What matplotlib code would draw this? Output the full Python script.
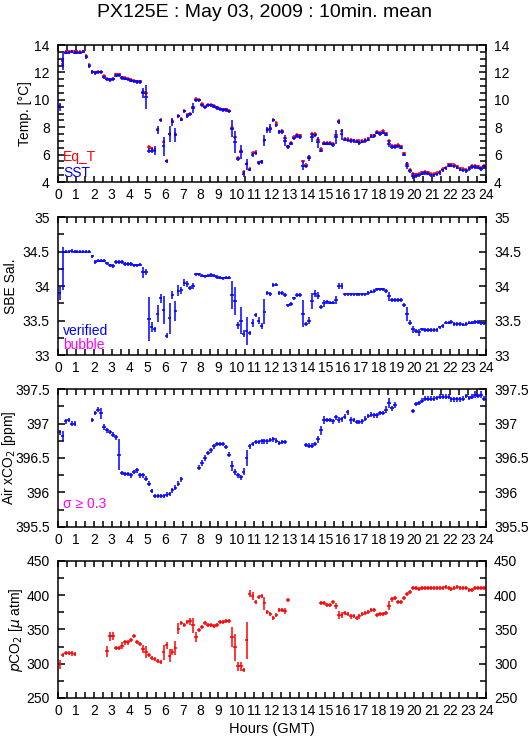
import numpy as np
import matplotlib
matplotlib.use('Agg')
import matplotlib.pyplot as plt
from matplotlib.ticker import MultipleLocator, FormatStrFormatter

plt.rcParams['font.family'] = ['Liberation Sans', 'DejaVu Sans']

nan = np.nan

# 10 minute means, one row per hour
sst = [
    9.5, 12.8, 13.45, 13.45, 13.5, 13.45,
    13.45, 13.45, 13.5, 13.1, 12.45, 12.0,
    11.95, 12.0, 12.0, 11.65, 11.5, 11.45,
    11.5, 11.75, 11.8, 11.6, 11.55, 11.5,
    11.4, 11.35, 11.3, 11.3, 10.5, 10.2,
    6.3, 6.3, 6.3, 7.8, 8.5, 6.6,
    5.5, 7.5, 8.4, 7.45, 8.8, 8.55,
    9.15, 8.85, 8.95, 9.4, 9.95, 9.95,
    9.6, 9.45, 9.6, 9.6, 9.5, 9.4,
    9.3, 9.25, 9.25, 9.15, 7.9, 6.9,
    5.7, 6.2, 4.6, 5.3, 4.9, 6.0,
    6.1, 5.4, 5.45, 7.05, 7.8, 7.9,
    8.5, 8.15, 7.65, 7.65, 7.0, 6.55,
    6.8, 7.2, 7.35, 7.3, 5.2, 5.15,
    5.75, 7.25, 7.4, 6.9, 6.3, 6.8,
    6.8, 6.8, 6.7, 7.3, 8.35, 7.5,
    7.1, 7.05, 7.0, 7.0, 6.95, 6.85,
    6.95, 7.0, 7.1, 7.3, 7.35, 7.6,
    7.5, 7.6, 7.45, 6.8, 6.55, 6.55,
    6.6, 6.5, 6.0, 5.2, 4.8, 4.45,
    4.45, 4.5, 4.6, 4.65, 4.6, 4.5,
    4.5, 4.55, 4.65, 4.85, 5.0, 5.2,
    5.2, 5.15, 5.05, 4.9, 4.85, 4.8,
    4.95, 5.1, 5.1, 5.05, 4.95, 5.15,
]
sst_sd = [
    0.3, 0.6, 0.05, 0.05, 0.05, 0.05,
    0.05, 0.05, 0.05, 0.15, 0.15, 0.15,
    0.1, 0.05, 0.05, 0.1, 0.1, 0.05,
    0.05, 0.05, 0.05, 0.05, 0.05, 0.05,
    0.05, 0.05, 0.05, 0.05, 0.35, 0.9,
    0.15, 0.2, 0.3, 0.3, 0.1, 0.7,
    0.1, 0.6, 0.3, 0.5, 0.1, 0.1,
    0.1, 0.15, 0.1, 0.35, 0.05, 0.05,
    0.1, 0.1, 0.05, 0.05, 0.05, 0.05,
    0.05, 0.05, 0.05, 0.1, 0.6, 0.8,
    0.15, 0.5, 0.2, 0.4, 0.1, 0.15,
    0.1, 0.15, 0.15, 0.4, 0.2, 0.3,
    0.05, 0.1, 0.1, 0.1, 0.4, 0.1,
    0.1, 0.1, 0.1, 0.15, 0.3, 0.1,
    0.2, 0.3, 0.1, 0.4, 0.1, 0.1,
    0.05, 0.05, 0.1, 0.5, 0.15, 0.4,
    0.05, 0.05, 0.05, 0.05, 0.05, 0.05,
    0.05, 0.05, 0.05, 0.05, 0.05, 0.05,
    0.05, 0.05, 0.1, 0.25, 0.1, 0.1,
    0.05, 0.05, 0.1, 0.25, 0.1, 0.2,
    0.15, 0.1, 0.05, 0.05, 0.05, 0.05,
    0.05, 0.05, 0.05, 0.05, 0.05, 0.05,
    0.05, 0.05, 0.05, 0.05, 0.05, 0.05,
    0.05, 0.05, 0.05, 0.05, 0.05, 0.05,
]
eq_t = [
    9.55, 12.65, 13.5, 13.5, 13.55, 13.55,
    13.5, 13.5, 13.55, 13.2, 12.55, 12.05,
    12.0, 12.05, 12.05, 11.75, 11.55, 11.5,
    11.55, 11.85, 11.85, 11.65, 11.6, 11.55,
    11.45, 11.4, 11.35, 11.35, 10.6, 10.5,
    6.55, 6.45, 6.35, 7.85, 8.55, 6.95,
    5.55, 7.5, 8.45, 7.5, 8.85, 8.6,
    9.2, 8.9, 9.0, 9.45, 10.05, 10.0,
    9.7, 9.5, 9.65, 9.65, 9.55, 9.45,
    9.35, 9.3, 9.3, 9.2, 7.95, 7.25,
    5.75, 6.3, 4.75, 5.35, 4.95, 6.15,
    6.2, 5.45, 5.5, 7.05, 7.85, 7.95,
    8.55, 8.3, 7.7, 7.75, 7.2, 6.6,
    6.85, 7.3, 7.45, 7.4, 5.5, 5.25,
    5.8, 7.5, 7.5, 7.1, 6.4, 6.85,
    6.85, 6.85, 6.8, 7.4, 8.45, 7.75,
    7.15, 7.15, 7.1, 7.05, 7.0, 7.0,
    7.0, 7.1, 7.2, 7.4, 7.4, 7.65,
    7.6, 7.75, 7.55, 7.0, 6.65, 6.65,
    6.7, 6.6, 6.1, 5.35, 4.9, 4.6,
    4.55, 4.6, 4.7, 4.75, 4.7, 4.6,
    4.6, 4.65, 4.75, 4.95, 5.05, 5.3,
    5.3, 5.25, 5.15, 5.0, 4.95, 4.9,
    5.05, 5.2, 5.2, 5.15, 5.05, 5.2,
]

sal = [
    33.9, 34.25, 34.5, 34.5, 34.51, 34.5,
    34.5, 34.5, 34.5, 34.5, 34.5, 34.43,
    34.35, 34.37, 34.37, 34.37, 34.33, 34.3,
    34.29, 34.35, 34.35, 34.35, 34.32, 34.32,
    34.32, 34.3, 34.3, 34.31, 34.2, 34.2,
    33.52, 33.41, 33.37, 33.6, 33.82, 33.65,
    33.28, 33.53, 33.87, 33.64, 33.93, 33.94,
    34.05, 34.03, 33.97, 34.0, 34.17, 34.17,
    34.15, 34.14, 34.15, 34.16, 34.15, 34.13,
    34.12, 34.11, 34.12, 34.12, 33.87, 33.78,
    33.43, 33.5, 33.31, 33.35, 33.32, 33.46,
    33.58, 33.5, 33.42, 33.63, 33.9, 33.89,
    34.02, 34.02, 33.9, 33.9, 33.87, 33.72,
    33.74, 33.82, 33.87, 33.87, 33.6, 33.45,
    33.5, 33.78, 33.89, 33.86, 33.69, 33.75,
    33.77, 33.76, 33.76, 33.8, 34.0, 34.0,
    33.88, 33.88, 33.88, 33.88, 33.88, 33.88,
    33.88, 33.88, 33.9, 33.92, 33.93, 33.95,
    33.95, 33.95, 33.93, 33.85, 33.8, 33.8,
    33.8, 33.8, 33.72, 33.6, 33.47, 33.37,
    33.35, 33.33, 33.37, 33.36, 33.36, 33.36,
    33.36, 33.36, 33.4, 33.42, 33.47, 33.47,
    33.48, 33.45, 33.45, 33.45, 33.44, 33.45,
    33.47, 33.47, 33.48, 33.48, 33.46, 33.46,
]
sal_sd = [
    0.1, 0.31, 0.01, 0.01, 0.01, 0.01,
    0.01, 0.01, 0.01, 0.01, 0.01, 0.02,
    0.03, 0.02, 0.02, 0.02, 0.02, 0.02,
    0.02, 0.02, 0.02, 0.02, 0.02, 0.02,
    0.02, 0.02, 0.02, 0.02, 0.08, 0.04,
    0.32, 0.07, 0.04, 0.12, 0.06, 0.2,
    0.04, 0.22, 0.06, 0.14, 0.08, 0.05,
    0.05, 0.04, 0.03, 0.05, 0.02, 0.02,
    0.02, 0.02, 0.02, 0.02, 0.02, 0.02,
    0.02, 0.02, 0.02, 0.02, 0.2, 0.2,
    0.05, 0.2, 0.05, 0.2, 0.03, 0.06,
    0.03, 0.05, 0.05, 0.18, 0.03, 0.03,
    0.03, 0.02, 0.02, 0.02, 0.03, 0.02,
    0.02, 0.02, 0.02, 0.02, 0.2, 0.03,
    0.05, 0.12, 0.05, 0.05, 0.03, 0.05,
    0.03, 0.02, 0.02, 0.06, 0.05, 0.05,
    0.01, 0.01, 0.01, 0.01, 0.01, 0.01,
    0.01, 0.01, 0.02, 0.02, 0.02, 0.02,
    0.02, 0.02, 0.02, 0.07, 0.03, 0.02,
    0.02, 0.03, 0.03, 0.1, 0.04, 0.05,
    0.03, 0.05, 0.02, 0.02, 0.02, 0.02,
    0.02, 0.02, 0.02, 0.02, 0.02, 0.02,
    0.02, 0.02, 0.02, 0.02, 0.02, 0.02,
    0.02, 0.02, 0.02, 0.02, 0.02, 0.02,
]

xco2 = [
    396.87, 396.82, 397.03, 397.05, 397.0, 397.0,
    nan, nan, nan, nan, nan, 397.05,
    397.15, 397.2, 397.15, 396.95, 396.9, 396.88,
    396.84, 396.8, 396.55, 396.28, 396.27, 396.27,
    396.25, 396.3, 396.32, 396.25, 396.25, 396.2,
    396.13, 396.02, 395.95, 395.95, 395.95, 395.95,
    395.97, 395.98, 396.03, 396.07, 396.13, 396.19,
    nan, nan, nan, nan, nan, 396.36,
    396.43, 396.5, 396.57, 396.61, 396.67, 396.7,
    396.7, 396.7, 396.66, 396.55, 396.38, 396.3,
    396.25, 396.22, 396.3, 396.5, 396.67, 396.7,
    396.73, 396.73, 396.74, 396.74, 396.74, 396.76,
    396.77, 396.75, 396.72, 396.73, 396.73, nan,
    nan, nan, nan, nan, nan, 396.69,
    396.68, 396.68, 396.7, 396.77, 396.9, 397.05,
    397.05, 397.05, 397.03, 397.09, 397.05, 397.06,
    397.1, 397.16, 397.05, 397.05, 397.02, 397.02,
    397.03, 397.07, 397.11, 397.13, 397.12, 397.12,
    397.15, 397.15, 397.2, 397.3, 397.22, 397.27,
    nan, nan, nan, nan, nan, 397.18,
    397.28, 397.3, 397.33, 397.36, 397.36, 397.36,
    397.36, 397.37, 397.39, 397.39, 397.39, 397.39,
    397.35, 397.35, 397.35, 397.35, 397.36, 397.4,
    397.37, 397.39, 397.42, 397.4, 397.42, 397.36,
]
xco2_sd = [
    0.04, 0.07, 0.03, 0.03, 0.03, 0.03,
    nan, nan, nan, nan, nan, 0.03,
    0.03, 0.04, 0.08, 0.04, 0.03, 0.03,
    0.03, 0.04, 0.23, 0.03, 0.03, 0.03,
    0.03, 0.03, 0.03, 0.03, 0.03, 0.03,
    0.03, 0.03, 0.03, 0.03, 0.03, 0.03,
    0.03, 0.03, 0.03, 0.03, 0.03, 0.03,
    nan, nan, nan, nan, nan, 0.04,
    0.04, 0.04, 0.03, 0.03, 0.03, 0.03,
    0.03, 0.03, 0.03, 0.04, 0.07, 0.04,
    0.03, 0.03, 0.05, 0.12, 0.04, 0.03,
    0.03, 0.03, 0.03, 0.03, 0.03, 0.03,
    0.03, 0.03, 0.03, 0.03, 0.03, nan,
    nan, nan, nan, nan, nan, 0.03,
    0.03, 0.03, 0.03, 0.05, 0.06, 0.06,
    0.03, 0.03, 0.03, 0.04, 0.04, 0.04,
    0.03, 0.03, 0.05, 0.03, 0.03, 0.03,
    0.03, 0.03, 0.03, 0.03, 0.03, 0.03,
    0.03, 0.03, 0.05, 0.07, 0.04, 0.04,
    nan, nan, nan, nan, nan, 0.03,
    0.03, 0.03, 0.03, 0.03, 0.03, 0.03,
    0.03, 0.03, 0.03, 0.03, 0.03, 0.03,
    0.03, 0.03, 0.03, 0.03, 0.03, 0.03,
    0.03, 0.03, 0.05, 0.03, 0.05, 0.03,
]

pco2 = [
    299, 313, 316, 316, 315, 314,
    nan, nan, nan, nan, nan, nan,
    nan, nan, nan, nan, 318, 340,
    340, 323, 323, 326, 331, 331,
    335, 340, 332, 329, 322, 317,
    313, 309, 307, 304, 302, 317,
    327, 312, 317, 323, 351, 360,
    356, 361, 362, 356, 339, 349,
    354, 360, 357, 357, 355, 356,
    361, 361, 362, 363, 339, 324,
    296, 296, 291, 334, 402, 399,
    390, 397, 399, 388, 375, 373,
    367, 371, 379, 379, 377, 393,
    nan, nan, nan, nan, nan, nan,
    nan, nan, nan, nan, 389, 389,
    386, 386, 390, 384, 371, 371,
    374, 373, 369, 370, 367, 369,
    373, 374, 376, 378, 378, 371,
    372, 372, 374, 385, 394, 396,
    390, 390, 396, 402, 405, 410,
    410, 409, 411, 411, 411, 411,
    411, 411, 411, 411, 412, 411,
    409, 411, 412, 411, 410, 411,
    408, 407, 410, 411, 410, 410,
]
pco2_sd = [
    6, 3, 2, 2, 2, 2,
    nan, nan, nan, nan, nan, nan,
    nan, nan, nan, nan, 8, 7,
    6, 2, 2, 5, 2, 2,
    2, 3, 2, 2, 6, 9,
    3, 2, 2, 2, 2, 11,
    5, 10, 4, 10, 8, 2,
    3, 2, 5, 11, 7, 2,
    2, 3, 2, 2, 2, 2,
    2, 2, 2, 2, 15, 20,
    7, 6, 2, 27, 5, 6,
    2, 2, 3, 9, 2, 2,
    2, 3, 2, 2, 4, 2,
    nan, nan, nan, nan, nan, nan,
    nan, nan, nan, nan, 3, 2,
    2, 2, 3, 4, 6, 4,
    2, 2, 2, 2, 2, 2,
    2, 2, 2, 2, 2, 2,
    2, 2, 3, 7, 4, 3,
    2, 2, 3, 3, 3, 2,
    2, 2, 2, 2, 2, 2,
    2, 2, 2, 2, 2, 2,
    2, 2, 2, 2, 2, 2,
    2, 2, 2, 2, 2, 2,
]

hours = (np.arange(144) + 0.5) / 6.0

RED = '#ff0000'
BLUE = '#0000ff'
MAGENTA = '#ff00ff'


def crosses(ax, y, sd, color, floor):
    y = np.asarray(y, dtype=float)
    sd = np.maximum(np.nan_to_num(np.asarray(sd, dtype=float)), floor)
    ax.errorbar(hours, y, xerr=0.1, yerr=sd, fmt='none',
                ecolor=color, elinewidth=1.1, capsize=0)


def style(ax, ylim, major, minor, fmt, ylabel, label_x):
    ax.set_xlim(0, 24)
    ax.set_ylim(*ylim)
    ax.xaxis.set_major_locator(MultipleLocator(1))
    ax.xaxis.set_minor_locator(MultipleLocator(0.5))
    ax.yaxis.set_major_locator(MultipleLocator(major))
    ax.yaxis.set_minor_locator(MultipleLocator(minor))
    ax.yaxis.set_major_formatter(FormatStrFormatter(fmt))
    ax.tick_params(which='both', direction='in', top=True, right=True,
                   labelright=True, labelsize=10, width=1.1)
    ax.tick_params(which='major', length=5, pad=6)
    ax.tick_params(which='minor', length=4)
    ax.tick_params(axis='x', which='both', length=4, pad=4)
    for s in ax.spines.values():
        s.set_linewidth(1.1)
    ax.set_ylabel(ylabel, fontsize=10)
    # label anchor is its right edge
    ax.yaxis.set_label_coords(label_x, 0.5)


fig = plt.figure(figsize=(5.29, 7.39), dpi=100)
fig.suptitle('PX125E : May 03, 2009 : 10min. mean', fontsize=14, y=0.995)

L, W = 0.110, 0.808
ax1 = fig.add_axes([L, 0.7537, W, 0.1854])
ax2 = fig.add_axes([L, 0.5196, W, 0.1867])
ax3 = fig.add_axes([L, 0.2869, W, 0.1867])
ax4 = fig.add_axes([L, 0.0555, W, 0.1854])

crosses(ax1, eq_t, [0.05] * 144, RED, 0.12)
crosses(ax1, sst, sst_sd, BLUE, 0.12)
style(ax1, (4, 14), 2, 0.5, '%g', 'Temp. [°C]', -0.062)
ax1.text(0.012, 0.18, 'Eq_T', color=RED, fontsize=10,
         transform=ax1.transAxes, va='center')
ax1.text(0.012, 0.065, 'SST', color=BLUE, fontsize=10,
         transform=ax1.transAxes, va='center')

crosses(ax2, sal, sal_sd, BLUE, 0.025)
style(ax2, (33, 35), 0.5, 0.25, '%g', 'SBE Sal.', -0.094)
ax2.text(0.012, 0.175, 'verified', color=BLUE, fontsize=10,
         transform=ax2.transAxes, va='center')
ax2.text(0.012, 0.07, 'bubble', color=MAGENTA, fontsize=10,
         transform=ax2.transAxes, va='center')

crosses(ax3, xco2, xco2_sd, BLUE, 0.033)
style(ax3, (395.5, 397.5), 0.5, 0.25, '%g', r'Air xCO$_2$ [ppm]', -0.094)
ax3.text(0.012, 0.167, 'σ ≥ 0.3', color=MAGENTA, fontsize=10,
         transform=ax3.transAxes, va='center')

crosses(ax4, pco2, pco2_sd, RED, 3.0)
style(ax4, (250, 450), 50, 25, '%d', r'$p$CO$_2$ [$\mu$ atm]', -0.078)
ax4.set_xlabel('Hours (GMT)', fontsize=10.5, labelpad=3)

fig.savefig('out.png', dpi=100)
